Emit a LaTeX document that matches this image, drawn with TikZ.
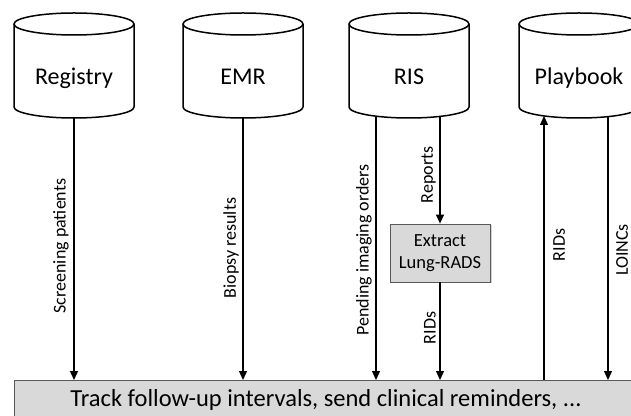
\documentclass[tikz,border=0pt]{standalone}
\usepackage{fontspec}
\setmainfont{Carlito}
\usetikzlibrary{arrows.meta,shadows}
\definecolor{boxgray}{HTML}{D9D9D9}
\definecolor{edgegray}{HTML}{595959}
\newcommand\dbcyl[3]{%
  \draw[cylline, fill=white] (#1-60,391) -- (#1-60,308)
    arc[start angle=180,end angle=360,x radius=60,y radius=11] -- (#1+60,391);
  \draw[cylline] (#1,391) ellipse[x radius=60,y radius=11];
  \node[cyltext] (#2) at (#1,330) {#3};
}
\begin{document}
\begin{tikzpicture}[x=1pt,y=1pt,
  cylline/.style={line width=1.5pt,black},
  cyltext/.style={anchor=base,inner sep=0pt,font=\fontsize{24}{28}\selectfont},
  conn/.style={line width=1.3pt,-{Triangle[length=9pt,width=8pt]}},
  lblL/.style={rotate=90,anchor=south,inner sep=0pt,font=\fontsize{18}{20}\selectfont},
  lblR/.style={rotate=90,anchor=north,inner sep=0pt,font=\fontsize{18}{20}\selectfont},
  procbox/.style={draw=edgegray,fill=boxgray,line width=0.8pt,minimum width=100pt,minimum height=58pt,
    align=center,inner sep=0pt,font=\fontsize{18.5}{22}\selectfont,
    drop shadow={shadow xshift=1.5pt,shadow yshift=-1.5pt,opacity=0.35,fill=gray}},
  bartext/.style={inner sep=0pt,anchor=base,font=\fontsize{24.5}{28}\selectfont}]
\useasboundingbox (0,0) rectangle (631,415);
\clip (0,0) rectangle (631,415);
% bar
\draw[draw=edgegray,fill=boxgray,line width=1pt] (14,35) rectangle (660,-10);
\coordinate (bartop) at (14,35);
\node[bartext] (track) at (326,9) {Track follow-up intervals, send clinical reminders, ...};
% cylinders
\dbcyl{74}{registry}{Registry}
\dbcyl{243}{emr}{EMR}
\dbcyl{409}{ris}{RIS}
\dbcyl{579}{playbook}{Playbook}
% connector end points on cylinder bottoms
\coordinate (regout) at (74,297);
\coordinate (emrout) at (243,297);
\coordinate (risA) at (376,299);
\coordinate (risB) at (440,299);
\coordinate (pbin) at (544,299);
\coordinate (pbout) at (608,298.3);
% extraction box
\node[procbox] (lung) at (440,162) {Extract\\Lung-RADS};
% connectors
\draw[conn] (regout) -- (regout |- bartop);
\draw[conn] (emrout) -- (emrout |- bartop);
\draw[conn] (risA) -- (risA |- bartop);
\draw[conn] (risB) -- (lung.north);
\draw[conn] (lung.south) -- (lung.south |- bartop);
\draw[conn] (pbin |- bartop) -- (pbin);
\draw[conn] (pbout) -- (pbout |- bartop);
% labels
\node[lblL] (l1) at (69,169) {Screening patients};
\node[lblL] (l2) at (239,167) {Biopsy results};
\node[lblL] (l3) at (372,165) {Pending imaging orders};
\node[lblL] (l4) at (436,240) {Reports};
\node[lblL] (l5) at (436,87) {RIDs};
\node[lblR] (l6) at (553,170) {RIDs};
\node[lblR] (l7) at (616,165) {LOINCs};
\end{tikzpicture}
\end{document}
